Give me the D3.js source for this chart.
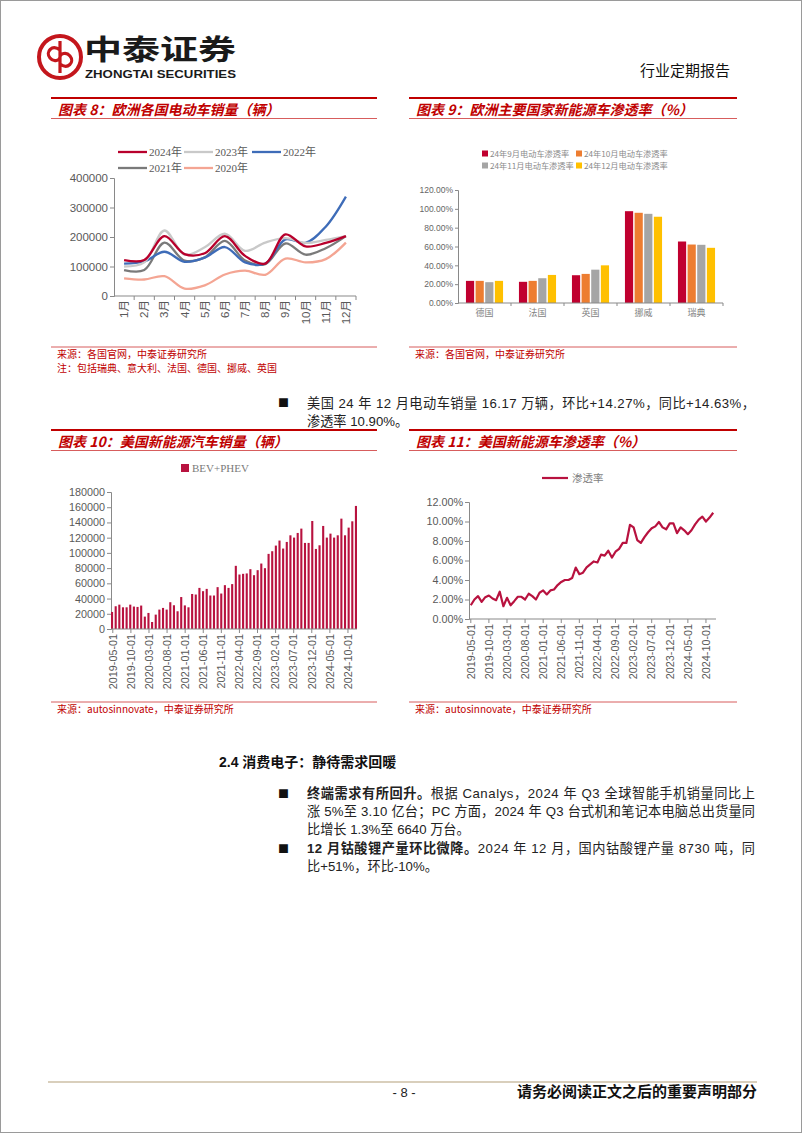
<!DOCTYPE html>
<html><head><meta charset="utf-8">
<script src="https://cdn.jsdelivr.net/npm/d3@7"></script>
<style>
html,body{margin:0;padding:0;background:#fff;}
svg{display:block;}
</style></head><body>
<svg id="page" width="802" height="1133"></svg>
<script>
// ---------------- DATA ----------------
const months = ["1月","2月","3月","4月","5月","6月","7月","8月","9月","10月","11月","12月"];
const eu2024 = [122000,122000,203000,142000,145000,203000,136000,110000,209000,168000,180000,203000];
const eu2023 = [100000,114000,222000,140000,165000,211000,153000,181000,196000,180000,190000,203000];
const eu2022 = [110000,117000,150000,116000,130000,166000,114000,110000,192000,180000,235000,337000];
const eu2021 = [88000,88000,181000,120000,131000,187000,120000,108000,178000,140000,162000,203000];
const eu2020 = [60000,56000,67000,25000,36000,73000,86000,72000,127000,114000,125000,181000];
const euSeriesNames = ["2024年","2023年","2022年","2021年","2020年"];

const penCountries = ["德国","法国","英国","挪威","瑞典"];
const penSeriesNames = ["24年9月电动车渗透率","24年10月电动车渗透率","24年11月电动车渗透率","24年12月电动车渗透率"];
const pen2409 = [0.235,0.225,0.295,0.975,0.653];
const pen2410 = [0.235,0.235,0.309,0.958,0.621];
const pen2411 = [0.221,0.263,0.354,0.947,0.618];
const pen2412 = [0.235,0.298,0.400,0.916,0.586];

const usDates = (function(){const a=[];for(let y=2019,m=5;a.length<68;){a.push(y+"-"+String(m).padStart(2,"0")+"-01");m++;if(m>12){m=1;y++;}}return a;})();
const usSales = [22400,29900,32000,28500,28500,32000,29500,29000,30800,16300,21100,9200,18900,25500,27700,25500,35200,31200,23300,42000,31000,28500,46000,45300,54000,49700,52700,44000,44000,55000,46600,57600,54000,59000,83000,71600,72500,73000,78600,70700,77300,86000,79900,98700,102200,109600,116200,105700,114400,123100,120100,126200,131900,113100,113100,141900,105200,110000,135400,120100,125300,120100,123100,145000,123100,133200,141500,161700];
const usPen = [0.0141,0.0200,0.0234,0.0176,0.0224,0.0241,0.0210,0.0193,0.0280,0.0131,0.0217,0.0141,0.0183,0.0228,0.0228,0.0200,0.0259,0.0234,0.0200,0.0269,0.0293,0.0252,0.0293,0.0303,0.0348,0.0380,0.0400,0.0400,0.0420,0.0528,0.0460,0.0475,0.0530,0.0560,0.0590,0.0580,0.0660,0.0650,0.0700,0.0630,0.0690,0.0720,0.0780,0.0780,0.0966,0.0940,0.0810,0.0780,0.0840,0.0890,0.0930,0.0950,0.0995,0.0940,0.0920,0.0980,0.0980,0.0880,0.0940,0.0910,0.0870,0.0910,0.0970,0.1020,0.1050,0.1000,0.1040,0.1090];
const usTickEvery = 5;

// ---------------- STYLE ----------------
const CJK = "'Noto Sans CJK SC','Noto Sans',sans-serif";
const NUM = "'Liberation Sans',Arial,'Noto Sans CJK SC',sans-serif";
const SERIF = "'Liberation Serif','Noto Sans CJK SC',serif";
const BODY = "'Liberation Sans','Noto Sans CJK SC',sans-serif";
const RED = "#C00000";
const AX = "#898989";
const LBL = "#595959";

const svg = d3.select("#page");
svg.append("rect").attr("x",0.5).attr("y",0.5).attr("width",801).attr("height",1132).attr("fill","#fff").attr("stroke","#9a9a9a");

function text(g,x,y,s,o={}){
  const t=g.append("text").attr("x",x).attr("y",y).text(s)
    .attr("font-family",o.ff||CJK).attr("font-size",o.fs||12).attr("fill",o.fill||"#000");
  if(o.anchor) t.attr("text-anchor",o.anchor);
  if(o.fw) t.attr("font-weight",o.fw);
  if(o.fst) t.attr("font-style",o.fst);
  if(o.tl) t.attr("textLength",o.tl).attr("lengthAdjust","spacingAndGlyphs");
  return t;
}

// ---------------- HEADER ----------------
const hd = svg.append("g");
hd.append("circle").attr("cx",60).attr("cy",57).attr("r",21).attr("fill","none").attr("stroke","#C4161C").attr("stroke-width",4);
hd.append("path").attr("d","M60,41 L60,73 M60,50 C52,44 45,52 50,58 C54,63 60,60 60,57 M60,64 C68,70 75,62 70,56 C66,51 60,54 60,57")
  .attr("fill","none").attr("stroke","#C4161C").attr("stroke-width",3.2);
text(hd,84,60,"中泰证券",{fs:28,fw:"bold",fill:"#1a1a1a",tl:152});
text(hd,85,78,"ZHONGTAI SECURITIES",{fs:10,fw:"bold",fill:"#1a1a1a",ff:NUM,tl:151});
text(hd,730,76,"行业定期报告",{fs:15,anchor:"end",fill:"#111"});

// chart frame headers
function chartHeader(x0,x1,y,title){
  svg.append("line").attr("x1",x0).attr("x2",x1).attr("y1",y).attr("y2",y).attr("stroke",RED).attr("stroke-width",2);
  text(svg,x0+7,y+17,title,{fs:14,fw:"bold",fst:"italic",fill:RED});
  svg.append("line").attr("x1",x0).attr("x2",x1).attr("y1",y+20.5).attr("y2",y+20.5).attr("stroke","#D24B4B").attr("stroke-width",0.9);
}
function sourceLine(x0,x1,y,lines){
  svg.append("line").attr("x1",x0).attr("x2",x1).attr("y1",y).attr("y2",y).attr("stroke","#D24B4B").attr("stroke-width",0.9);
  lines.forEach((s,i)=>text(svg,x0+6,y+11+i*13.5,s,{fs:10,fill:RED}));
}
chartHeader(51,377,98,"图表 8：欧洲各国电动车销量（辆）");
chartHeader(409,737,98,"图表 9：欧洲主要国家新能源车渗透率（%）");
chartHeader(51,377,430,"图表 10：美国新能源汽车销量（辆）");
chartHeader(409,737,430,"图表 11：美国新能源车渗透率（%）");
sourceLine(51,377,347,["来源：各国官网，中泰证券研究所","注：包括瑞典、意大利、法国、德国、挪威、英国"]);
sourceLine(409,737,347,["来源：各国官网，中泰证券研究所"]);
sourceLine(51,377,702,["来源：autosinnovate，中泰证券研究所"]);
sourceLine(409,737,702,["来源：autosinnovate，中泰证券研究所"]);

// ---------------- CHART 8 ----------------
{
  const g = svg.append("g");
  const x = d3.scaleBand().domain(months).range([114,356]);
  const y = d3.scaleLinear().domain([0,400000]).range([296,178]);
  const series = [
    {name:"2020年",vals:eu2020,color:"#F4A593"},
    {name:"2021年",vals:eu2021,color:"#7A7A7A"},
    {name:"2022年",vals:eu2022,color:"#3E6CB8"},
    {name:"2023年",vals:eu2023,color:"#C9C9C9"},
    {name:"2024年",vals:eu2024,color:"#B8002C"}
  ];
  const yAx = g.append("g").attr("transform","translate(114,0)").call(d3.axisLeft(y).tickValues(d3.range(0,400001,100000)).tickSize(4).tickFormat(d3.format("d")));
  yAx.select(".domain").attr("stroke",AX);
  yAx.selectAll(".tick line").attr("stroke",AX);
  yAx.selectAll("text").attr("font-family",NUM).attr("font-size",11.5).attr("fill",LBL).attr("x",-6);
  g.append("line").attr("x1",114).attr("x2",356).attr("y1",296).attr("y2",296).attr("stroke",AX);
  months.forEach((m,i)=>{
    g.append("line").attr("x1",x(m)+x.bandwidth()).attr("x2",x(m)+x.bandwidth()).attr("y1",296).attr("y2",300).attr("stroke",AX);
    g.append("text").attr("transform",`translate(${x(m)+x.bandwidth()/2},300) rotate(-90)`).attr("text-anchor","end").attr("dy","0.35em")
      .attr("font-family",NUM).attr("font-size",11.5).attr("fill",LBL).text(m);
  });
  const line = d3.line().x((d,i)=>x(months[i])+x.bandwidth()/2).y(d=>y(d)).curve(d3.curveCatmullRom.alpha(0.5));
  series.forEach(s=>g.append("path").attr("d",line(s.vals)).attr("fill","none").attr("stroke",s.color).attr("stroke-width",2.3));
  const leg = [
    {name:"2024年",color:"#B8002C",x:118,y:152},{name:"2023年",color:"#C9C9C9",x:184,y:152},{name:"2022年",color:"#3E6CB8",x:252,y:152},
    {name:"2021年",color:"#7A7A7A",x:118,y:168},{name:"2020年",color:"#F4A593",x:184,y:168}
  ];
  leg.forEach(l=>{
    g.append("line").attr("x1",l.x).attr("x2",l.x+29).attr("y1",l.y).attr("y2",l.y).attr("stroke",l.color).attr("stroke-width",2.3);
    text(g,l.x+31,l.y+4,l.name,{fs:11,ff:SERIF,fill:LBL});
  });
}

// ---------------- CHART 9 ----------------
{
  const g = svg.append("g");
  const xb = d3.scaleBand().domain(penCountries).range([458,723]);
  const x0 = d3.scaleBand().domain(penCountries).range([458,723]).paddingInner(0.3).paddingOuter(0.15);
  const x1 = d3.scaleBand().domain(penSeriesNames).range([0,x0.bandwidth()]).paddingInner(0.15);
  const y = d3.scaleLinear().domain([0,1.2]).range([303,190]);
  const colors = ["#C0002F","#ED7D31","#A5A5A5","#FFC000"];
  const vals = [pen2409,pen2410,pen2411,pen2412];
  const yAx = g.append("g").attr("transform","translate(458,0)").call(d3.axisLeft(y).tickValues(d3.range(0,1.21,0.2)).tickSize(3).tickFormat(d3.format(".2%")));
  yAx.select(".domain").attr("stroke",AX);
  yAx.selectAll(".tick line").attr("stroke",AX);
  yAx.selectAll("text").attr("font-family",NUM).attr("font-size",8.5).attr("fill","#666").attr("x",-5);
  vals.forEach((arr,si)=>{
    g.selectAll(null).data(arr).join("rect")
      .attr("x",(d,i)=>x0(penCountries[i])+x1(penSeriesNames[si])).attr("width",x1.bandwidth())
      .attr("y",d=>y(d)).attr("height",d=>303-y(d)).attr("fill",colors[si]);
  });
  g.append("line").attr("x1",458).attr("x2",723).attr("y1",303).attr("y2",303).attr("stroke",AX);
  penCountries.forEach(c=>{
    g.append("line").attr("x1",xb(c)+xb.bandwidth()).attr("x2",xb(c)+xb.bandwidth()).attr("y1",303).attr("y2",306).attr("stroke",AX);
    text(g,xb(c)+xb.bandwidth()/2,316,c,{fs:9,anchor:"middle",fill:"#7f7f7f"});
  });
  const lp=[[482,154],[576,154],[482,166],[576,166]];
  penSeriesNames.forEach((n,i)=>{
    g.append("rect").attr("x",lp[i][0]).attr("y",lp[i][1]-3.5).attr("width",6).attr("height",6).attr("fill",colors[i]);
    text(g,lp[i][0]+8,lp[i][1]+3,n,{fs:8.2,fill:"#8a8a8a"});
  });
}

// ---------------- CHART 10 ----------------
{
  const g = svg.append("g");
  const x = d3.scaleBand().domain(usDates).range([111,357]).paddingInner(0.42);
  const xs = d3.scaleBand().domain(usDates).range([111,357]);
  const y = d3.scaleLinear().domain([0,180000]).range([629,492]);
  const yAx = g.append("g").attr("transform","translate(111,0)").call(d3.axisLeft(y).tickValues(d3.range(0,180001,20000)).tickSize(4).tickFormat(d3.format("d")));
  yAx.select(".domain").attr("stroke",AX);
  yAx.selectAll(".tick line").attr("stroke",AX);
  yAx.selectAll("text").attr("font-family",NUM).attr("font-size",10.8).attr("fill",LBL).attr("x",-6);
  g.selectAll(null).data(usSales).join("rect")
    .attr("x",(d,i)=>x(usDates[i])).attr("width",x.bandwidth()).attr("y",d=>y(d)).attr("height",d=>629-y(d)).attr("fill","#B8123F");
  g.append("line").attr("x1",111).attr("x2",357).attr("y1",629).attr("y2",629).attr("stroke",AX);
  usDates.forEach((d,i)=>{
    if(i%usTickEvery!==0) return;
    const cx = xs(d)+xs.bandwidth()/2;
    g.append("line").attr("x1",cx).attr("x2",cx).attr("y1",629).attr("y2",633).attr("stroke",AX);
    g.append("text").attr("transform",`translate(${cx},634) rotate(-90)`).attr("text-anchor","end").attr("dy","0.35em")
      .attr("font-family",NUM).attr("font-size",10.8).attr("fill",LBL).text(d);
  });
  g.append("rect").attr("x",181).attr("y",464).attr("width",8).attr("height",8).attr("fill","#B8123F");
  text(g,192,472,"BEV+PHEV",{fs:11,ff:SERIF,fill:"#7a7a7a"});
}

// ---------------- CHART 11 ----------------
{
  const g = svg.append("g");
  const x = d3.scaleBand().domain(usDates).range([469,715]);
  const y = d3.scaleLinear().domain([0,0.12]).range([619,502]);
  const yAx = g.append("g").attr("transform","translate(469,0)").call(d3.axisLeft(y).tickValues(d3.range(0,0.1201,0.02)).tickSize(4).tickFormat(d3.format(".2%")));
  yAx.select(".domain").attr("stroke",AX);
  yAx.selectAll(".tick line").attr("stroke",AX);
  yAx.selectAll("text").attr("font-family",NUM).attr("font-size",10.8).attr("fill",LBL).attr("x",-6);
  g.append("line").attr("x1",469).attr("x2",716).attr("y1",619).attr("y2",619).attr("stroke",AX);
  usDates.forEach((d,i)=>{
    if(i%usTickEvery!==0) return;
    const cx = x(d)+x.bandwidth()/2;
    g.append("line").attr("x1",cx).attr("x2",cx).attr("y1",619).attr("y2",623).attr("stroke",AX);
    g.append("text").attr("transform",`translate(${cx},624) rotate(-90)`).attr("text-anchor","end").attr("dy","0.35em")
      .attr("font-family",NUM).attr("font-size",10.8).attr("fill",LBL).text(d);
  });
  const line = d3.line().x((d,i)=>x(usDates[i])+x.bandwidth()/2).y(d=>y(d));
  g.append("path").attr("d",line(usPen)).attr("fill","none").attr("stroke","#B8123F").attr("stroke-width",2.2).attr("stroke-linejoin","round");
  g.append("line").attr("x1",542).attr("x2",568).attr("y1",478).attr("y2",478).attr("stroke","#B8123F").attr("stroke-width",2.2);
  text(g,572,482,"渗透率",{fs:10.5,fill:"#7f7f7f"});
}

// ---------------- BODY TEXT ----------------
function para(x,y,runs,tl){
  const t = svg.append("text").attr("x",x).attr("y",y).attr("font-family",BODY)
    .attr("font-size",13.2).attr("fill","#222");
  runs.forEach(r=>{const s=t.append("tspan").text(r.t); if(r.b) s.attr("font-weight","bold");});
  if(tl) t.attr("textLength",tl).attr("lengthAdjust","spacing");
  return t;
}
function bullet(x,y){ text(svg,x,y,"■",{fs:11,fill:"#111"}); }
bullet(278,407);
para(307,408,[{t:"美国 24 年 12 月电动车销量 16.17 万辆，环比+14.27%，同比+14.63%，"}],448);
para(307,426,[{t:"渗透率 10.90%。"}]);

text(svg,219,767,"2.4 消费电子：静待需求回暖",{fs:14,fw:"bold",fill:"#111",ff:BODY});
bullet(278,798);
para(307,798,[{t:"终端需求有所回升。",b:true},{t:"根据 Canalys，2024 年 Q3 全球智能手机销量同比上"}],448);
para(307,816,[{t:"涨 5%至 3.10 亿台；PC 方面，2024 年 Q3 台式机和笔记本电脑总出货量同"}],448);
para(307,834,[{t:"比增长 1.3%至 6640 万台。"}]);
bullet(278,853);
para(307,853,[{t:"12 月钴酸锂产量环比微降。",b:true},{t:"2024 年 12 月，国内钴酸锂产量 8730 吨，同"}],448);
para(307,871,[{t:"比+51%，环比-10%。"}]);

// ---------------- FOOTER ----------------
svg.append("line").attr("x1",48).attr("x2",757).attr("y1",1082).attr("y2",1082).attr("stroke","#CDBFA6").attr("stroke-width",1.6);
text(svg,404,1097,"- 8 -",{fs:13,anchor:"middle",fill:"#222",ff:NUM});
text(svg,757,1097,"请务必阅读正文之后的重要声明部分",{fs:15,anchor:"end",fw:"bold",fill:"#111"});
</script>
</body></html>
